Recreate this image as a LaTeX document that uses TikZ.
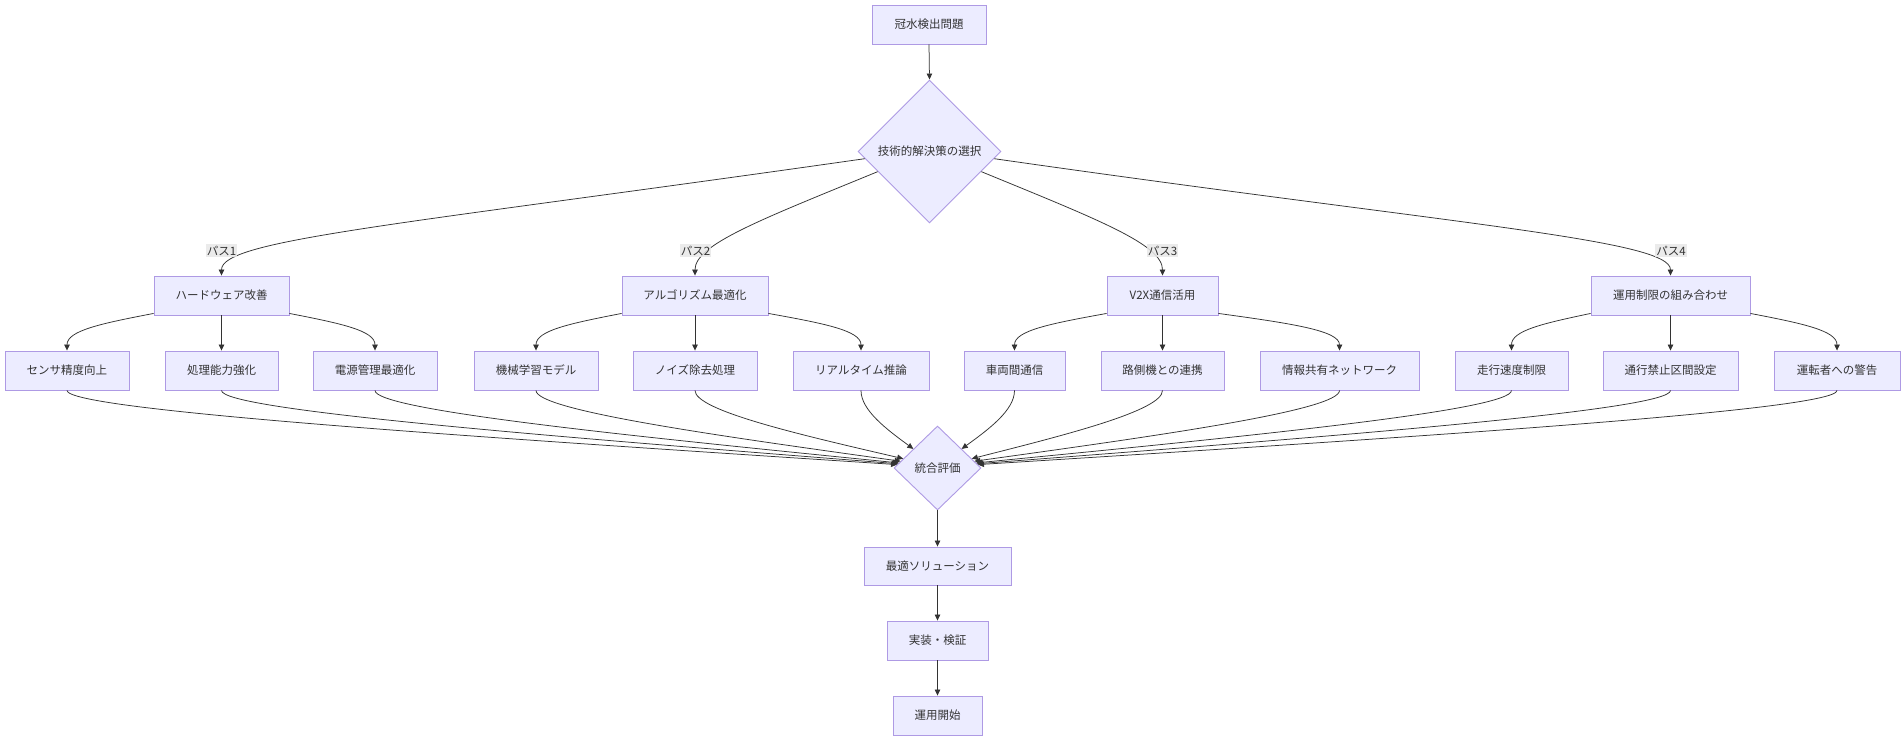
\documentclass[tikz,border=0pt]{standalone}
\usepackage{fontspec}
\setmainfont{Noto Sans CJK JP}
\usetikzlibrary{shapes.geometric,arrows.meta,calc}
\definecolor{boxf}{HTML}{ECECFF}
\definecolor{boxd}{HTML}{AE9AE4}
\definecolor{ln}{HTML}{333333}
\definecolor{lblf}{HTML}{E8E8E8}
\begin{document}
\begin{tikzpicture}[x=1pt,y=-1pt,
  every node/.style={font=\fontsize{11.5}{13}\selectfont, text=ln},
  box/.style={draw=boxd, fill=boxf, line width=0.9pt, rectangle, minimum height=39pt, inner sep=0pt},
  dia/.style={draw=boxd, fill=boxf, line width=0.9pt, diamond, inner sep=0pt},
  arr/.style={draw=ln, line width=0.75pt, -{Triangle[length=6pt,width=5.5pt]}},
  lbl/.style={fill=lblf, fill opacity=0.85, text opacity=1, inner xsep=1pt, inner ysep=1.5pt}
]
\fill[white] (0,0) rectangle (1904,741);
\useasboundingbox (0,0) rectangle (1904,741);

% nodes
\node[box, minimum width=114pt] (A) at (929,24.5) {冠水検出問題};
\node[dia, minimum width=143pt, minimum height=143pt] (B) at (929.5,151.5) {技術的解決策の選択};

\node[box, minimum width=135pt] (C1) at (221.5,295.5) {ハードウェア改善};
\node[box, minimum width=146pt] (C2) at (695,295.5) {アルゴリズム最適化};
\node[box, minimum width=111pt] (C3) at (1162.5,295.5) {V2X通信活用};
\node[box, minimum width=159pt] (C4) at (1670.5,295.5) {運用制限の組み合わせ};

\node[box, minimum width=124pt] (D1) at (67,370.5) {センサ精度向上};
\node[box, minimum width=113pt] (D2) at (221.5,370.5) {処理能力強化};
\node[box, minimum width=124pt] (D3) at (375,370.5) {電源管理最適化};
\node[box, minimum width=124pt] (D4) at (536,370.5) {機械学習モデル};
\node[box, minimum width=124pt] (D5) at (695,370.5) {ノイズ除去処理};
\node[box, minimum width=136pt] (D6) at (861,370.5) {リアルタイム推論};
\node[box, minimum width=101pt] (D7) at (1014.5,370.5) {車両間通信};
\node[box, minimum width=123pt] (D8) at (1162.5,370.5) {路側機との連携};
\node[box, minimum width=159pt] (D9) at (1339.5,370.5) {情報共有ネットワーク};
\node[box, minimum width=113pt] (D10) at (1511.5,370.5) {走行速度制限};
\node[box, minimum width=135pt] (D11) at (1670.5,370.5) {通行禁止区間設定};
\node[box, minimum width=126pt] (D12) at (1837,370.5) {運転者への警告};

\node[dia, minimum width=87pt, minimum height=84pt] (E) at (937.5,468) {統合評価};
\node[box, minimum width=147pt, minimum height=38pt] (F) at (937.5,566) {最適ソリューション};
\node[box, minimum width=101pt] (G) at (937.5,640.5) {実装・検証};
\node[box, minimum width=89pt] (H) at (937.5,715.5) {運用開始};

% edges
\draw[arr] (A.south) -- (B.north);

\draw[arr] ($(B.west)!0.1!(B.south)$) .. controls (400,225) and ($(C1.north)+(0,-36)$) .. (C1.north);
\draw[arr] ($(B.west)!0.28!(B.south)$) .. controls (760,220) and ($(C2.north)+(0,-31)$) .. (C2.north);
\draw[arr] ($(B.east)!0.28!(B.south)$) .. controls (1099,220) and ($(C3.north)+(0,-31)$) .. (C3.north);
\draw[arr] ($(B.east)!0.1!(B.south)$) .. controls (1457,225) and ($(C4.north)+(0,-36)$) .. (C4.north);

\foreach \c/\l/\m/\r in {C1/D1/D2/D3, C2/D4/D5/D6, C3/D7/D8/D9, C4/D10/D11/D12} {
  \draw[arr] (\c.south) -- (\m.north);
  \coordinate (sl) at ($(\c.south west)+(0,-2)$);
  \coordinate (tl) at (\l.north);
  \draw[arr] (sl) .. controls ($(sl)!0.6!(tl|-sl)+(0,10)$) and ($(tl)+(0,-20)$) .. (tl);
  \coordinate (sr) at ($(\c.south east)+(0,-2)$);
  \coordinate (tr) at (\r.north);
  \draw[arr] (sr) .. controls ($(sr)!0.6!(tr|-sr)+(0,10)$) and ($(tr)+(0,-20)$) .. (tr);
}

\foreach \d/\s in {D1/0.08, D2/0.10, D3/0.12, D4/0.16, D5/0.22, D6/0.45} {
  \coordinate (e) at ($(E.west)!\s!(E.north)$);
  \coordinate (p) at ($(\d.south)+(0,20)$);
  \draw[arr] (\d.south) .. controls (p) and ($(p)!0.5!(e)$) .. (e);
}
\foreach \d/\s in {D12/0.08, D11/0.10, D10/0.12, D9/0.16, D8/0.22, D7/0.45} {
  \coordinate (e) at ($(E.east)!\s!(E.north)$);
  \coordinate (p) at ($(\d.south)+(0,20)$);
  \draw[arr] (\d.south) .. controls (p) and ($(p)!0.5!(e)$) .. (e);
}

\draw[arr] (E.south) -- (F.north);
\draw[arr] (F.south) -- (G.north);
\draw[arr] (G.south) -- (H.north);

% edge labels
\node[lbl] (L1) at (221.5,250.5) {パス1};
\node[lbl] (L2) at (695.5,250.5) {パス2};
\node[lbl] (L3) at (1162.5,250.5) {パス3};
\node[lbl] (L4) at (1671,250.5) {パス4};
\end{tikzpicture}
\end{document}
